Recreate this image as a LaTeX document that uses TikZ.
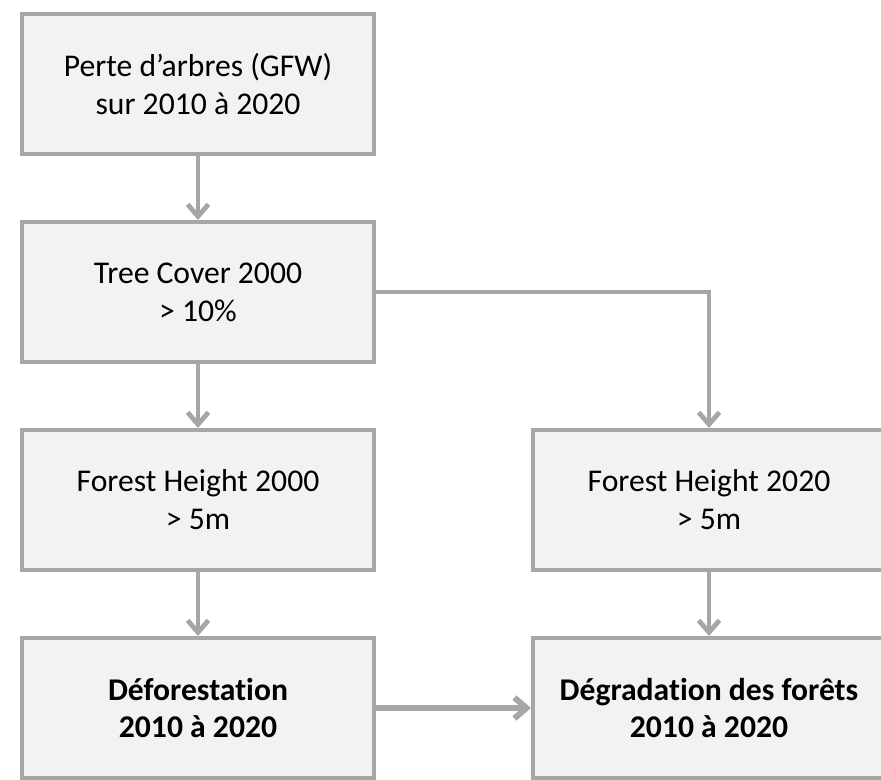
\documentclass[tikz,border=0pt]{standalone}
\usepackage{fontspec}
\setmainfont{Carlito}[Ligatures=NoCommon]
\usetikzlibrary{positioning,arrows.meta}
\definecolor{boxgray}{HTML}{A6A6A6}
\definecolor{boxfill}{HTML}{F2F2F2}
\begin{document}
\begin{tikzpicture}[node distance=1.6cm,
  box/.style={draw=boxgray, fill=boxfill, line width=1mm, rectangle, align=center,
    minimum width=8.8cm, minimum height=3.5cm, font=\fontsize{22.5pt}{27pt}\selectfont},
  link/.style={draw=boxgray, line width=1.2mm, -{Straight Barb[length=3mm,width=5.2mm]}}]
\useasboundingbox (0,0) rectangle (22.025,-19.475);
\clip (0,0) rectangle (22.025,-19.475);
% left column
\node (perte) [box] at (4.95,-2.1) {Perte d’arbres (GFW)\\sur 2010 à 2020};
\node (cover) [box, below=of perte] {Tree Cover 2000\\> 10\%};
\node (height2000) [box, below=of cover] {Forest Height 2000\\> 5m};
\node (defor) [box, below=of height2000] {\textbf{Déforestation}\\\textbf{2010 à 2020}};

% right column
\node (height2020) [box, right=3.875cm of height2000] {Forest Height 2020\\> 5m};
\node (degrad) [box, below=of height2020] {\textbf{Dégradation des forêts}\\\textbf{2010 à 2020}};

% arrows
\draw[link] (perte) -- (cover);
\draw[link] (cover) -- (height2000);
\draw[link] (height2000) -- (defor);
\draw[link] (cover.east) -| (height2020.north);
\draw[link] (height2020) -- (degrad);
\draw[link, line width=1.5mm] (defor) -- (degrad);
\end{tikzpicture}
\end{document}
